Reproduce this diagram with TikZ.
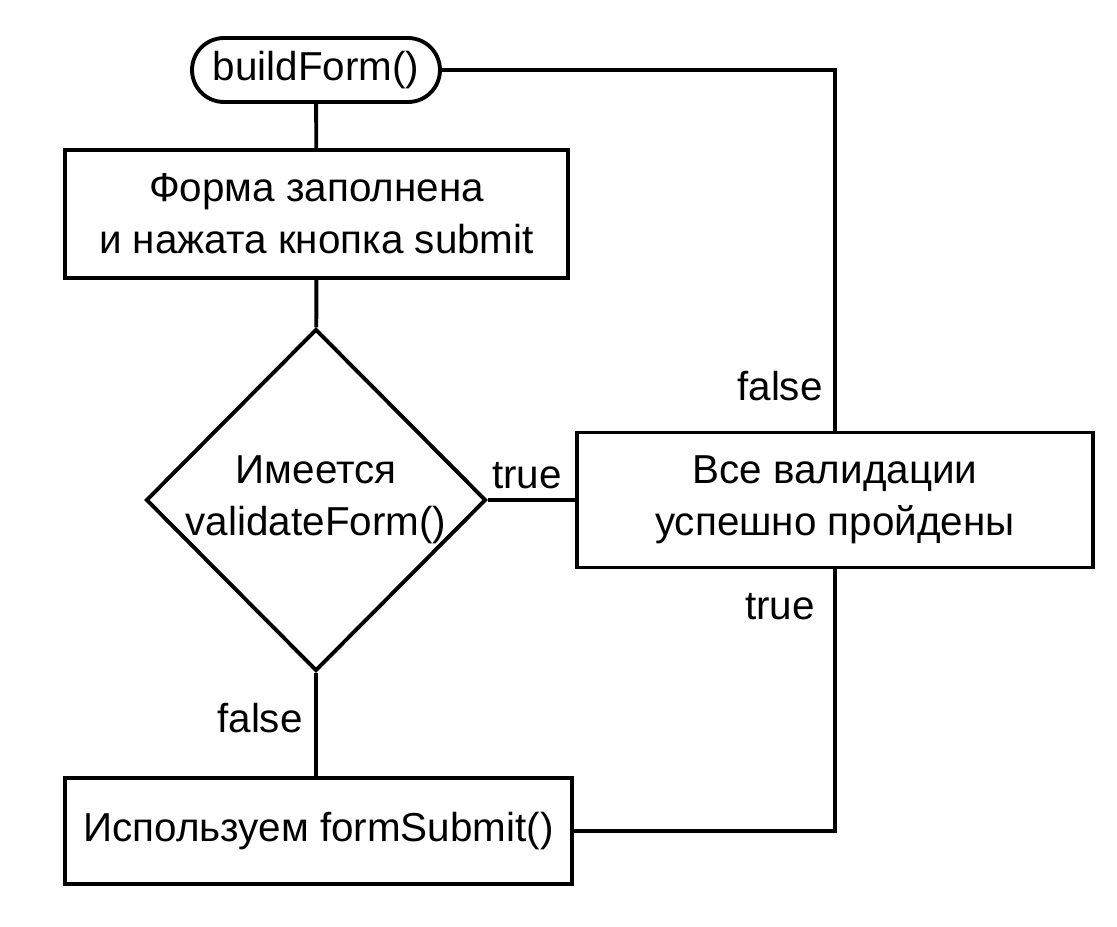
\documentclass[tikz,border=0pt]{standalone}
\usepackage{fontspec}
\setmainfont{Liberation Sans}
\usetikzlibrary{
    shapes.geometric,    % For the diamond
    positioning          % For relative placement
}

\begin{document}
\begin{tikzpicture}[
    x=0.02cm, y=-0.02cm, % One unit per pixel, y going down
    font=\fontsize{23}{29.6}\selectfont,
    line width=2.2pt,
    term/.style={draw, rounded corners=0.64cm, minimum width=4.96cm, minimum height=1.28cm, inner sep=0pt},
    block/.style={draw, align=center, inner sep=0pt},
    decision/.style={draw, diamond, align=center, inner sep=-5pt, minimum width=6.8cm, minimum height=6.84cm},
    lbl/.style={inner sep=0pt} % Style for connector labels
]
    \useasboundingbox (0,0) rectangle (1117,927);

    % Nodes
    \node[term] (start) at (316, 70) {buildForm()};
    \node[block, minimum width=10.06cm, minimum height=2.56cm] (filled) at (316.5, 214)
        {Форма заполнена\\и нажата кнопка submit};
    \node[decision] (check) at (316, 500) {Имеется\\validateForm()};
    \node[block, minimum width=10.32cm, minimum height=2.7cm] (valid) at (835, 500)
        {Все валидации\\успешно пройдены};
    \node[block, minimum width=10.14cm, minimum height=2.12cm] (submit) at (318.5, 831)
        {Используем formSubmit()};

    % Connectors
    \draw (start) -- (filled);
    \draw (filled) -- (check);
    \draw (check.east) -- (valid.west);
    \draw (check.south) -- (check.south |- submit.north);
    \draw (valid.north) |- (start.east);
    \draw (valid.south) |- (submit.east);

    % Labels
    \node[lbl] (ltrue1) at (527, 476) {true};
    \node[lbl] (lfalse1) at (780, 386) {false};
    \node[lbl] (ltrue2) at (780, 607) {true};
    \node[lbl] (lfalse2) at (260, 718) {false};

\end{tikzpicture}
\end{document}
